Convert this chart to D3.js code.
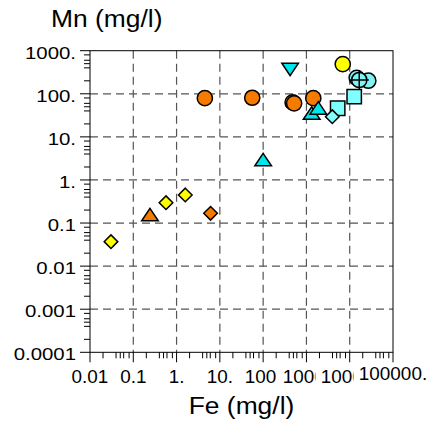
<!DOCTYPE html>
<html>
<head>
<meta charset="utf-8">
<script src="https://cdn.jsdelivr.net/npm/d3@7"></script>
<style>
  html, body { margin: 0; padding: 0; background: #fff; }
  svg { display: block; }
</style>
</head>
<body>
<svg id="chart"></svg>
<script>
// Fe / Mn values (mg/l), one pair of arrays per marker
const orangeCircleFe = [4.5, 56, 480, 520, 1440];
const orangeCircleMn = [79, 81, 63, 60, 79];
const orangeTriangleFe = [0.243];
const orangeTriangleMn = [0.154];
const orangeDiamondFe = [6.1];
const orangeDiamondMn = [0.168];
const yellowDiamondFe = [0.0305, 0.57, 1.59];
const yellowDiamondMn = [0.037, 0.297, 0.448];
const yellowCircleFe = [6900];
const yellowCircleMn = [490];
const cyanTriangleFe = [100, 1320, 1880];
const cyanTriangleMn = [2.9, 35, 46];
const cyanTriangleDownFe = [420];
const cyanTriangleDownMn = [375];
const aquaSquareFe = [5270, 12700];
const aquaSquareMn = [46, 86];
const aquaDiamondFe = [3960];
const aquaDiamondMn = [29.4];
const aquaCircleFe = [14500, 26900];
const aquaCircleMn = [235, 201];
const aquaCrossFe = [16600];
const aquaCrossMn = [209];

// tick labels
const xTickValues = [0.01, 0.1, 1, 10, 100, 1000, 10000, 100000];
const xTickLabels = ["0.01", "0.1", "1.", "10.", "100.", "1000.", "10000.", "100000."];
const yTickValues = [0.0001, 0.001, 0.01, 0.1, 1, 10, 100, 1000];
const yTickLabels = ["0.0001", "0.001", "0.01", "0.1", "1.", "10.", "100.", "1000."];
const minorSteps = [2, 4, 5, 6, 8];

const width = 431, height = 427;
const plotLeft = 90, plotRight = 393, plotTop = 50.7, plotBottom = 352.3;

const svg = d3.select("#chart")
    .attr("width", width)
    .attr("height", height);

const x = d3.scaleLog().domain([0.01, 100000]).range([plotLeft, plotRight]);
const y = d3.scaleLog().domain([0.0001, 1000]).range([plotBottom, plotTop]);

const font = "'Liberation Sans', Arial, sans-serif";

// text a bit wider than plain Arial, like the original export
function label(g, tx, ty, txt, size, anchor, sx) {
    return g.append("text")
        .attr("transform", `translate(${tx},${ty}) scale(${sx},1)`)
        .attr("text-anchor", anchor)
        .style("font-family", font)
        .style("font-size", size + "px")
        .attr("fill", "#000")
        .text(txt);
}

// grid (dashed), only inner decades
const grid = svg.append("g");
xTickValues.slice(1, -1).forEach(v => {
    grid.append("line")
        .attr("x1", x(v)).attr("x2", x(v))
        .attr("y1", plotTop).attr("y2", plotBottom)
        .attr("stroke", "#555")
        .attr("stroke-width", 1.2)
        .attr("stroke-dasharray", "8,5");
});
yTickValues.slice(1, -1).forEach(v => {
    grid.append("line")
        .attr("x1", plotLeft).attr("x2", plotRight)
        .attr("y1", y(v)).attr("y2", y(v))
        .attr("stroke", "#555")
        .attr("stroke-width", 1.2)
        .attr("stroke-dasharray", "8,5");
});

// frame
svg.append("rect")
    .attr("x", plotLeft).attr("y", plotTop)
    .attr("width", plotRight - plotLeft).attr("height", plotBottom - plotTop)
    .attr("fill", "none")
    .attr("stroke", "#000")
    .attr("stroke-width", 1);

// ticks, major + minor, drawn outside the frame
const ticks = svg.append("g").attr("stroke", "#000").attr("stroke-width", 1);
xTickValues.forEach((v, i) => {
    ticks.append("line")
        .attr("x1", x(v)).attr("x2", x(v))
        .attr("y1", plotBottom).attr("y2", plotBottom + 10);
    if (i < xTickValues.length - 1) {
        minorSteps.forEach(m => {
            ticks.append("line")
                .attr("x1", x(v * m)).attr("x2", x(v * m))
                .attr("y1", plotBottom).attr("y2", plotBottom + 6);
        });
    }
});
yTickValues.forEach((v, i) => {
    ticks.append("line")
        .attr("x1", plotLeft - 10).attr("x2", plotLeft)
        .attr("y1", y(v)).attr("y2", y(v));
    if (i < yTickValues.length - 1) {
        minorSteps.forEach(m => {
            ticks.append("line")
                .attr("x1", plotLeft - 6).attr("x2", plotLeft)
                .attr("y1", y(v * m)).attr("y2", y(v * m));
        });
    }
});

// y tick labels
const yLab = svg.append("g");
yTickValues.forEach((v, i) => {
    label(yLab, 76, y(v) + 8, yTickLabels[i], 17, "end", 1.2);
});

// x tick labels: each one sits on a white box, so the next one hides the tail of the previous
const xLab = svg.append("g");
const pad = 5;
xTickValues.forEach((v, i) => {
    const last = i === xTickValues.length - 1;
    const t = label(xLab, x(v), last ? 380 : 383, xTickLabels[i], 17.5, "middle", 1.08);
    const bb = t.node().getBBox();
    xLab.insert("rect", () => t.node())
        .attr("transform", t.attr("transform"))
        .attr("x", bb.x - pad).attr("y", bb.y)
        .attr("width", bb.width + pad * 2).attr("height", bb.height)
        .attr("fill", "#fff");
});

// axis titles
label(svg, 51, 27, "Mn (mg/l)", 24, "start", 1.1);
label(svg, (plotLeft + plotRight) / 2, 414, "Fe (mg/l)", 24, "middle", 1.1);

// marker shapes (not circles)
const shapes = {
    square: s => `M${-s},${-s}H${s}V${s}H${-s}Z`,
    diamond: s => `M0,${-s}L${s},0L0,${s}L${-s},0Z`,
    triangle: s => `M0,${-s * 0.8}L${s},${s * 0.7}L${-s},${s * 0.7}Z`,
    triangleDown: s => `M0,${s * 0.8}L${s},${-s * 0.7}L${-s},${-s * 0.7}Z`
};

const series = [
    { fe: orangeCircleFe, mn: orangeCircleMn, shape: "circle", size: 7.6, fill: "#f57a00" },
    { fe: orangeTriangleFe, mn: orangeTriangleMn, shape: "triangle", size: 8.3, fill: "#f57a00" },
    { fe: orangeDiamondFe, mn: orangeDiamondMn, shape: "diamond", size: 6.8, fill: "#f57a00" },
    { fe: yellowDiamondFe, mn: yellowDiamondMn, shape: "diamond", size: 6.8, fill: "#ffff00" },
    { fe: yellowCircleFe, mn: yellowCircleMn, shape: "circle", size: 7.6, fill: "#ffff00" },
    { fe: cyanTriangleDownFe, mn: cyanTriangleDownMn, shape: "triangleDown", size: 8.3, fill: "#00e6ee" },
    { fe: cyanTriangleFe, mn: cyanTriangleMn, shape: "triangle", size: 8.3, fill: "#00e6ee" },
    { fe: aquaSquareFe, mn: aquaSquareMn, shape: "square", size: 7.2, fill: "#80ffff" },
    { fe: aquaDiamondFe, mn: aquaDiamondMn, shape: "diamond", size: 6.8, fill: "#80ffff" },
    { fe: aquaCircleFe, mn: aquaCircleMn, shape: "circle", size: 7.6, fill: "#80f4f4" },
    { fe: aquaCrossFe, mn: aquaCrossMn, shape: "cross", size: 7.6, fill: "#80f4f4" }
];

const marks = svg.append("g");
series.forEach(s => {
    const pts = s.fe.map((fe, i) => ({ fe: fe, mn: s.mn[i] }));
    const g = marks.selectAll(null)
        .data(pts)
        .enter()
        .append("g")
        .attr("transform", d => `translate(${x(d.fe)},${y(d.mn)})`);
    if (s.shape === "circle" || s.shape === "cross") {
        g.append("circle")
            .attr("r", s.size)
            .attr("fill", s.fill)
            .attr("stroke", "#000")
            .attr("stroke-width", 1.5);
        if (s.shape === "cross") {
            g.append("path")
                .attr("d", `M${-s.size - 2},0H${s.size + 2}M0,${-s.size - 2}V${s.size + 2}`)
                .attr("stroke", "#000")
                .attr("stroke-width", 1.5);
        }
    } else {
        g.append("path")
            .attr("d", shapes[s.shape](s.size))
            .attr("fill", s.fill)
            .attr("stroke", "#000")
            .attr("stroke-width", 1.5)
            .attr("stroke-linejoin", "miter");
    }
});
</script>
</body>
</html>
